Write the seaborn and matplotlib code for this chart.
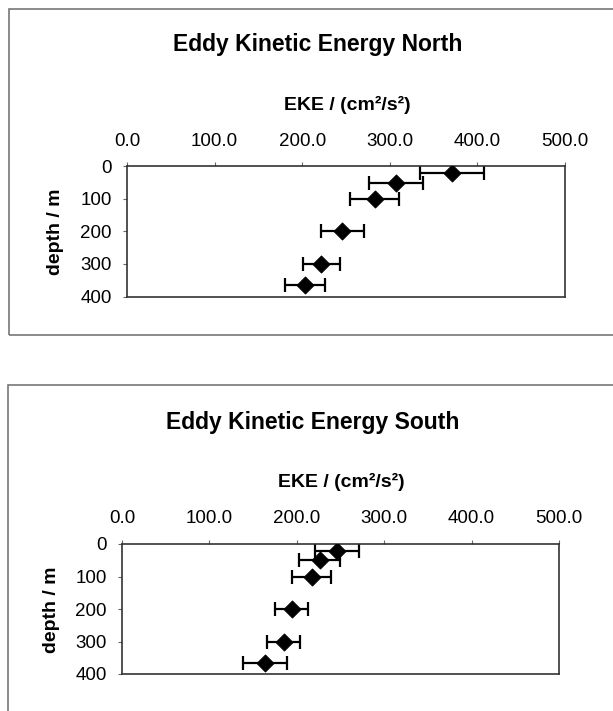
import numpy as np
import seaborn as sns
import matplotlib.pyplot as plt
from matplotlib.patches import Rectangle

# depth levels (m) and eddy kinetic energy (cm^2/s^2)
depth = [20, 50, 100, 200, 300, 365]
eke_north = [371, 307, 283, 246, 222, 203]
err_north = [37, 31, 28, 24, 21, 23]
eke_south = [246, 226, 217, 194, 185, 164]
err_south = [25, 23, 22, 19, 19, 25]
x_ticks = [0, 100, 200, 300, 400, 500]
y_ticks = [0, 100, 200, 300, 400]

sns.set_style("white")
plt.rcParams['font.family'] = ['Liberation Sans', 'DejaVu Sans']
plt.rcParams['text.color'] = 'black'
plt.rcParams['xtick.labelcolor'] = 'black'
plt.rcParams['ytick.labelcolor'] = 'black'

W, H = 613, 711
fig = plt.figure(figsize=(W / 100, H / 100), dpi=100)


def px(x, y):
    # pixel position -> figure fraction
    return x / W, 1 - y / H


def panel(rect, eke, err, title, title_xy, xlab_xy, ylab_xy, frame):
    l, t, r, b = rect
    ax = fig.add_axes([l / W, 1 - b / H, (r - l) / W, (b - t) / H])
    ax.errorbar(eke, depth, xerr=err, fmt='none', ecolor='black',
                elinewidth=1.6, capsize=5, capthick=1.6, zorder=2)
    sns.scatterplot(x=eke, y=depth, marker='D', color='black', s=75,
                    edgecolor='black', ax=ax, zorder=3)
    ax.set_xlim(0, 500)
    ax.set_ylim(400, 0)
    ax.set_xticks(x_ticks)
    ax.set_xticklabels(['%.1f' % v for v in x_ticks])
    ax.set_yticks(y_ticks)
    ax.xaxis.tick_top()
    ax.tick_params(axis='both', labelsize=13.5, length=3, width=0.8,
                   color='#666666', labelcolor='black', direction='out')
    ax.tick_params(axis='x', pad=9, top=True, bottom=False)
    ax.tick_params(axis='y', pad=8, left=True)
    for s in ax.spines.values():
        s.set_color('#333333')
        s.set_linewidth(1.2)
    ax.set_xlabel('')
    ax.set_ylabel('')

    fig.text(*px(*title_xy), title, ha='center', va='center',
             fontsize=16.5, fontweight='bold', color='black')
    fig.text(*px(*xlab_xy), 'EKE / (cm²/s²)', ha='center', va='center',
             fontsize=14, fontweight='bold', color='black')
    fig.text(*px(*ylab_xy), 'depth / m', ha='center', va='center',
             fontsize=14, fontweight='bold', rotation=90, color='black')

    fx, fy, fw, fh = frame
    fig.patches.append(Rectangle(px(fx, fy + fh), fw / W, fh / H,
                                 transform=fig.transFigure, fill=False,
                                 edgecolor='#777777', linewidth=1.2))
    return ax


panel((127, 166.5, 565, 296.5), eke_north, err_north,
      'Eddy Kinetic Energy North', (318, 45), (347, 105), (56, 232),
      (9, 9, 620, 326))
panel((122, 544, 559, 674), eke_south, err_south,
      'Eddy Kinetic Energy South', (313, 422), (341, 482), (51, 610),
      (8, 385, 620, 340))

fig.savefig('out.png', dpi=100)
